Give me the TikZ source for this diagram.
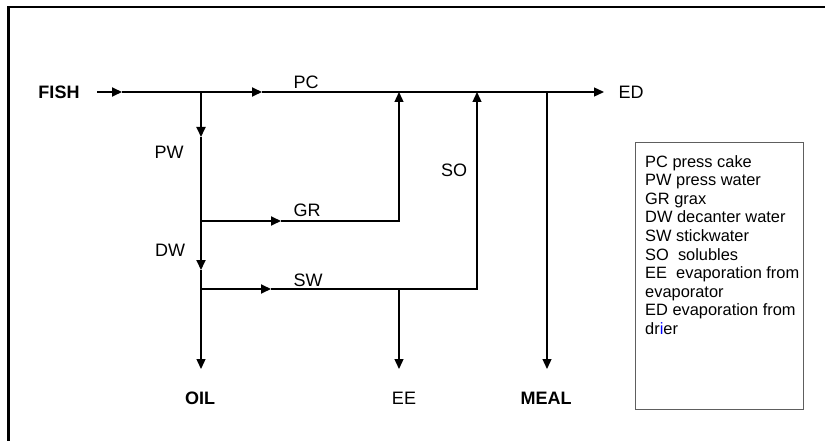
\documentclass[tikz,border=0pt]{standalone}
\usepackage{fontspec}
\setmainfont{Liberation Sans}
\usetikzlibrary{arrows.meta}
\definecolor{boxgray}{HTML}{5E5E5E}
\begin{document}
\begin{tikzpicture}[x=1pt,y=-1pt,
  thinflow/.style={line width=1.3pt},
  thickflow/.style={line width=1.9pt},
  tip/.style={-{Triangle[length=10pt,width=9pt]}},
  lbl/.style={inner sep=0pt,font=\fontsize{18}{21}\selectfont},
  blbl/.style={inner sep=0pt,font=\fontsize{18}{21}\selectfont\bfseries}]
\useasboundingbox (0,0) rectangle (825,441);
% partial outer frame
\draw[line width=2.6pt] (8.5,441) -- (8.5,7) -- (825,7);

% coordinates of the flow network
\coordinate (fs) at (97,92);
\coordinate (fishTip) at (122,92);
\coordinate (j1) at (201,92);
\coordinate (pcTip) at (262,92);
\coordinate (grUp) at (399,92);
\coordinate (soUp) at (477,92);
\coordinate (mealTop) at (547,92);
\coordinate (edTip) at (604,92);
\coordinate (pwTip) at (201,137);
\coordinate (j2) at (201,221);
\coordinate (grTip) at (281,221);
\coordinate (grEnd) at (399,221);
\coordinate (dwTip) at (201,270);
\coordinate (j3) at (201,289);
\coordinate (swTip) at (271,289);
\coordinate (eeTop) at (399,289);
\coordinate (swEnd) at (477,289);
\coordinate (oilTip) at (201,369);
\coordinate (eeTip) at (399,369);
\coordinate (mealTip) at (547,369);

% labels
\node[blbl] (fish) at (59,92) {FISH};
\node[lbl] (pc) at (306,82) {PC};
\node[lbl] (ed) at (631,92) {ED};
\node[lbl] (pw) at (169,152) {PW};
\node[lbl] (so) at (454,170) {SO};
\node[lbl] (gr) at (307,210) {GR};
\node[lbl] (dw) at (170,250) {DW};
\node[lbl] (sw) at (308,280) {SW};
\node[blbl] (oil) at (200,398) {OIL};
\node[lbl] (ee) at (404,398) {EE};
\node[blbl] (meal) at (546,398) {MEAL};

% thin connectors
\draw[thinflow,tip] (pcTip) -- (edTip);
\draw[thinflow] (pwTip) -- (j2);
\draw[thinflow,tip] (dwTip) -- (oilTip);
\draw[thinflow,tip] (grTip) -- (grEnd) -- (grUp);
\draw[thinflow,tip] (swTip) -- (swEnd) -- (soUp);
\draw[thinflow,tip] (eeTop) -- (eeTip);
\draw[thinflow,tip] (mealTop) -- (mealTip);

% thick arrow segments
\draw[thickflow,tip] (fs) -- (fishTip);
\draw[thickflow,tip] (fishTip) -- (pcTip);
\draw[thickflow,tip] (j1) -- (pwTip);
\draw[thickflow,tip] (j2) -- (dwTip);
\draw[thickflow,tip] (j2) -- (grTip);
\draw[thickflow,tip] (j3) -- (swTip);

% legend
\node[draw=boxgray,line width=1.3pt,anchor=north west,inner sep=0pt,
      minimum width=168pt,minimum height=267pt] (legbox) at (635,142) {};
\node[anchor=north west,inner sep=0pt,align=left,
      font=\fontsize{16.4}{18.6}\selectfont] (legend) at (645,155)
  {PC press cake\\
   PW press water\\
   GR grax\\
   DW decanter water\\
   SW stickwater\\
   SO~~solubles\\
   EE~~evaporation from\\
   evaporator\\
   ED evaporation from\\
   dr\textcolor{blue}{i}er};
\end{tikzpicture}
\end{document}
